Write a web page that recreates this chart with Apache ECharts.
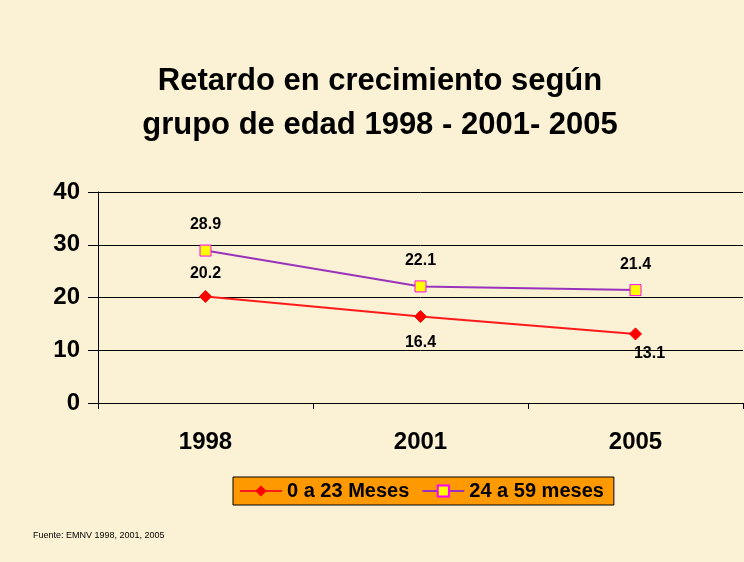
<!DOCTYPE html>
<html><head><meta charset="utf-8">
<script src="https://cdn.jsdelivr.net/npm/echarts@6/dist/echarts.min.js"></script>
<style>html,body{margin:0;padding:0;background:#FBF1D5;}#c{width:744px;height:562px;}</style>
</head><body><div id="c"></div>
<script>
const categories = ['1998', '2001', '2005'];
const series0to23 = [20.2, 16.4, 13.1];
const series24to59 = [28.9, 22.1, 21.4];
const seriesNames = ['0 a 23 Meses', '24 a 59 meses'];
const yTicks = [0, 10, 20, 30, 40];

const chart = echarts.init(document.getElementById('c'));
const F = 'Liberation Sans, Arial, sans-serif';
chart.setOption({
  backgroundColor: '#FBF1D5',
  animation: false,
  title: {
    text: 'Retardo en crecimiento según\ngrupo de edad 1998 - 2001- 2005',
    left: 375, top: 54, textAlign: 'center',
    textStyle: { fontFamily: F, fontWeight: 'bold', fontSize: 31, lineHeight: 44, color: '#000' }
  },
  graphic: [{
    type: 'text', left: 33, top: 531,
    style: { text: 'Fuente: EMNV 1998, 2001, 2005', font: '9px ' + F, fill: '#000' }
  }],
  legend: {
    left: 233, top: 477,
    backgroundColor: '#FF9900', borderColor: '#000', borderWidth: 1,
    padding: [4, 10, 4, 6], itemGap: 12, itemWidth: 42, itemHeight: 14,
    textStyle: { fontFamily: F, fontWeight: 'bold', fontSize: 20, color: '#000' },
    data: seriesNames
  },
  grid: { left: 98, right: 1, top: 192, bottom: 159, containLabel: false },
  xAxis: {
    type: 'category', data: categories, boundaryGap: true,
    axisLine: { lineStyle: { color: '#000', width: 1 } },
    axisTick: { show: true, length: 6, lineStyle: { color: '#000' } },
    axisLabel: { fontFamily: F, fontWeight: 'bold', fontSize: 24, color: '#000', margin: 27 }
  },
  yAxis: {
    type: 'value', min: yTicks[0], max: yTicks[yTicks.length - 1], interval: 10,
    axisLine: { show: true, lineStyle: { color: '#000' } },
    axisTick: { show: true, length: 10, lineStyle: { color: '#000' } },
    splitLine: { lineStyle: { color: '#000', width: 1 } },
    axisLabel: { fontFamily: F, fontWeight: 'bold', fontSize: 24, color: '#000', margin: 18 }
  },
  series: [{
    name: seriesNames[0], type: 'line',
    symbol: 'diamond', symbolSize: 12,
    lineStyle: { color: '#FF1A1A', width: 2 },
    itemStyle: { color: '#FF0000', borderColor: '#FF0000' },
    label: {
      show: true, fontFamily: F, fontWeight: 'bold', fontSize: 16, color: '#000',
      formatter: p => p.value.toFixed(1)
    },
    data: series0to23.map((v, i) => ({
      value: v,
      label: i === 0 ? { position: 'top', distance: 8 } : (i === 1 ? { position: 'bottom', distance: 12 } : { position: 'bottom', distance: 5, offset: [14, 0] })
    }))
  }, {
    name: seriesNames[1], type: 'line',
    symbol: 'rect', symbolSize: 11,
    lineStyle: { color: '#9933BB', width: 2 },
    itemStyle: { color: '#FFFF00', borderColor: '#FF00FF', borderWidth: 1 },
    label: {
      show: true, position: 'top', distance: 12, fontFamily: F, fontWeight: 'bold', fontSize: 16, color: '#000',
      formatter: p => p.value.toFixed(1)
    },
    data: series24to59
  }]
});
</script></body></html>
